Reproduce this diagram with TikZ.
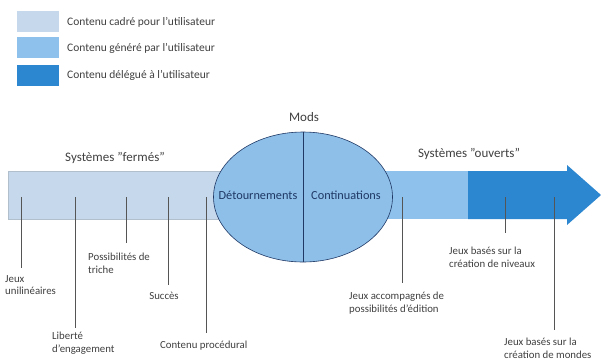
\documentclass[tikz,border=0pt]{standalone}
\usepackage{fontspec}
\setmainfont{Carlito}
\usetikzlibrary{shapes.geometric}
\definecolor{cLight}{HTML}{C6D9EC}
\definecolor{cMid}{HTML}{8EC2EC}
\definecolor{cDark}{HTML}{2C86D0}
\definecolor{cEll}{HTML}{8DBFE9}
\definecolor{cNavy}{HTML}{1F3864}
\definecolor{cText}{HTML}{404040}
\definecolor{cTick}{HTML}{555555}
\newcommand{\sq}{\symbol{34}}
\begin{document}
\begin{tikzpicture}[x=1pt,y=-1pt,
  legbox/.style={minimum width=42pt,minimum height=21pt,inner sep=0pt,draw=none},
  legtxt/.style={anchor=west,font=\fontsize{11.5}{12}\selectfont,text=cText,inner sep=0pt},
  lbl/.style={font=\fontsize{10.8}{12.3}\selectfont,text=cText,align=left,inner sep=0pt},
  ttl/.style={font=\fontsize{13}{15}\selectfont,text=cText,inner sep=0pt},
  etxt/.style={font=\fontsize{12.3}{14}\selectfont,text=cNavy,inner sep=0pt},
  tick/.style={draw=cTick,line width=0.8pt}]
\useasboundingbox (0,0) rectangle (601,362);
\fill[white] (0,0) rectangle (601,362);
% legend
\node[legbox,fill=cLight] (l1) at (38,21.5) {};
\node[legbox,fill=cMid] (l2) at (38,47.5) {};
\node[legbox,fill=cDark] (l3) at (38,75) {};
\node[legtxt] (t1) at (67,22) {Contenu cadré pour l'utilisateur};
\node[legtxt] (t2) at (67,48.5) {Contenu généré par l'utilisateur};
\node[legtxt] (t3) at (67,75) {Contenu délégué à l'utilisateur};
% arrow body
\draw[fill=cLight,draw=cLight!70!gray,line width=0.4pt] (8,171) rectangle (300,219);
\fill[cMid] (300,171) rectangle (468,219);
\fill[cDark] (468,171) -- (567,171) -- (567,165) -- (601,195) -- (567,225) -- (567,219) -- (468,219) -- cycle;
% ellipse
\node[ellipse,draw=cNavy,fill=cEll,line width=0.6pt,minimum width=179pt,minimum height=130pt,inner sep=0pt] (mods) at (303,197) {};
\draw[cNavy,line width=0.7pt] (mods.north) -- (mods.south);
\node[etxt] (det) at (258,195) {Détournements};
\node[etxt] (cont) at (346,195) {Continuations};
\node[ttl] (modst) at (304,117) {Mods};
\node[ttl] (ferm) at (115,158) {Systèmes \sq fermés\sq};
\node[ttl] (ouv) at (469,154) {Systèmes \sq ouverts\sq};
% labels
\node[lbl,anchor=north west] (j1) at (5,275) {Jeux\\unilinéaires};
\node[lbl,anchor=north west] (j2) at (52,332) {Liberté\\d'engagement};
\node[lbl,anchor=north west] (j3) at (88,253) {Possibilités de\\triche};
\node[lbl,anchor=north] (j4) at (164,292) {Succès};
\node[lbl,anchor=north west] (j5) at (160,341) {Contenu procédural};
\node[lbl,anchor=north west] (j6) at (349,292) {Jeux accompagnés de\\possibilités d'édition};
\node[lbl,anchor=north west] (j7) at (449,247) {Jeux basés sur la\\création de niveaux};
\node[lbl,anchor=north west] (j8) at (504,338) {Jeux basés sur la\\création de mondes};
% tick tops
\coordinate (c1) at (21,197);
\coordinate (c2) at (75,197);
\coordinate (c3) at (126,197);
\coordinate (c4) at (168,197);
\coordinate (c5) at (206,197);
\coordinate (c6) at (402,197);
\coordinate (c7) at (505,197);
\coordinate (c8) at (554,197);
\draw[tick] (c1) -- (21,268);
\draw[tick] (c2) -- (75,328);
\draw[tick] (c3) -- (126,243);
\draw[tick] (c4) -- (168,285);
\draw[tick] (c5) -- (206,333);
\draw[tick] (c6) -- (402,283);
\draw[tick] (c7) -- (505,233);
\draw[tick] (c8) -- (554,330);
\end{tikzpicture}
\end{document}
